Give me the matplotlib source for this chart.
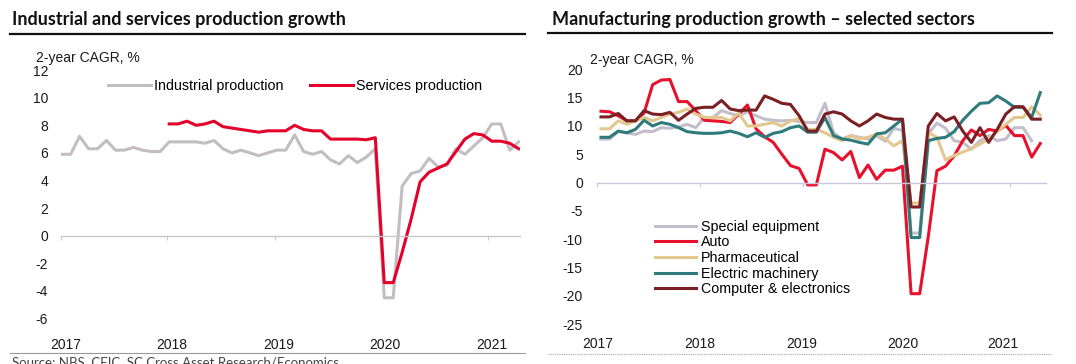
import numpy as np
import matplotlib
matplotlib.use("Agg")
import matplotlib.pyplot as plt
from matplotlib.lines import Line2D

plt.rcParams['font.family'] = ['Liberation Sans', 'DejaVu Sans']
plt.rcParams['axes.unicode_minus'] = False

nan = np.nan
# Monthly data, Jan 2017 .. Apr 2021 (52 months)
industrial = [5.9, 5.9, 7.2, 6.3, 6.3, 6.9, 6.2, 6.2, 6.4, 6.2, 6.1, 6.1,
              6.8, 6.8, 6.8, 6.8, 6.7, 6.9, 6.3, 6.0, 6.2, 6.0, 5.8, 6.0,
              6.2, 6.2, 7.3, 6.1, 5.9, 6.1, 5.5, 5.2, 5.8, 5.3, 5.7, 6.3,
              -4.5, -4.5, 3.6, 4.5, 4.7, 5.6, 5.0, 5.1, 6.3, 5.9, 6.5, 7.1,
              8.1, 8.1, 6.2, 6.8]
services = [nan] * 12 + [
              8.1, 8.1, 8.3, 8.0, 8.1, 8.3, 7.9, 7.8, 7.7, 7.6, 7.5, 7.6,
              7.6, 7.6, 8.0, 7.7, 7.6, 7.6, 7.0, 7.0, 7.0, 7.0, 6.95, 7.1,
              -3.4, -3.4, -1.2, 1.2, 3.9, 4.6, 4.9, 5.2, 6.1, 7.0, 7.4, 7.3,
              6.85, 6.85, 6.7, 6.3]

special_equipment = [7.7, 7.7, 9.0, 8.8, 8.5, 9.1, 9.0, 9.7, 9.6, 9.8, 10.3, 9.7,
                     11.5, 11.5, 12.7, 12.2, 11.8, 12.5, 11.8, 11.2, 11.0, 10.9, 11.0, 10.8,
                     10.6, 10.6, 14.0, 8.8, 7.7, 8.3, 8.0, 7.7, 8.3, 7.3, 9.6, 9.2,
                     -8.9, -8.9, 8.6, 10.5, 9.6, 7.4, 7.1, 5.9, 7.4, 8.3, 7.4, 7.7,
                     9.7, 9.7, 7.4, nan]
auto = [12.6, 12.5, 11.8, 10.9, 10.9, 12.3, 17.3, 18.1, 18.2, 14.3, 14.3, 12.7,
        11.0, 10.9, 10.8, 10.6, 12.1, 13.7, 9.5, 8.1, 7.1, 5.0, 3.0, 2.5,
        -0.4, -0.4, 5.9, 5.3, 4.0, 5.5, 0.9, 3.1, 0.6, 2.2, 2.2, 2.9,
        -19.6, -19.6, -9.5, 2.1, 2.9, 4.7, 7.4, 9.3, 8.3, 9.4, 9.1, 10.1,
        8.3, 8.3, 4.5, 6.9]
pharmaceutical = [9.5, 9.5, 10.9, 10.3, 10.9, 11.5, 10.9, 11.5, 12.1, 12.4, 13.0, 12.1,
                  11.5, 11.5, 11.5, 10.9, 12.3, 10.0, 10.0, 10.3, 10.6, 10.0, 10.9, 11.3,
                  9.4, 9.4, 8.8, 8.0, 7.4, 8.3, 7.7, 8.0, 8.6, 7.7, 6.5, 7.4,
                  -3.6, -3.6, 8.8, 8.0, 4.0, 4.8, 5.4, 6.0, 6.8, 7.7, 9.0, 10.3,
                  11.5, 11.5, 13.4, 11.9]
electric_machinery = [8.0, 8.0, 9.1, 8.8, 9.4, 11.0, 10.0, 10.6, 10.3, 9.7, 9.0, 8.8,
                      8.7, 8.7, 8.8, 9.1, 8.7, 8.1, 8.8, 8.0, 8.7, 9.0, 9.7, 10.0,
                      8.9, 8.9, 11.5, 8.3, 7.7, 7.5, 7.1, 6.8, 8.6, 8.8, 10.0, 11.2,
                      -9.7, -9.7, 7.4, 7.8, 8.0, 9.0, 11.0, 12.6, 14.0, 14.1, 15.3, 14.4,
                      13.3, 13.3, 11.5, 15.9]
computer = [11.6, 11.6, 12.2, 10.9, 10.9, 12.7, 12.1, 12.0, 12.4, 11.0, 12.1, 13.1,
            13.3, 13.3, 14.5, 13.0, 12.7, 12.8, 12.8, 15.3, 14.7, 14.0, 13.8, 11.8,
            9.1, 9.1, 12.1, 12.5, 12.1, 10.9, 10.0, 10.9, 12.1, 11.5, 11.2, 11.2,
            -4.3, -4.3, 10.0, 12.2, 10.9, 11.6, 9.1, 7.1, 9.7, 7.1, 9.4, 12.1,
            13.4, 13.4, 11.2, 11.2]

year_labels = ['2017', '2018', '2019', '2020', '2021']
left_yticks = [12, 10, 8, 6, 4, 2, 0, -2, -4, -6]
right_yticks = [20, 15, 10, 5, 0, -5, -10, -15, -20, -25]

W, H = 1076, 364
fig = plt.figure(figsize=(W / 100, H / 100), dpi=100)


def fx(px):
    return px / W


def fy(py):
    return 1 - py / H


def rect(x0, x1, ytop, ybot):
    return [fx(x0), fy(ybot), fx(x1) - fx(x0), fy(ytop) - fy(ybot)]


months = np.arange(len(industrial))


def style_axis(ax, zero_color, tick_pos, label_pos, ypad, xpad):
    for s in ['top', 'right', 'left']:
        ax.spines[s].set_visible(False)
    ax.spines['bottom'].set_position(('data', 0))
    ax.spines['bottom'].set_color(zero_color)
    ax.spines['bottom'].set_linewidth(1.0)
    ax.set_xticks(tick_pos)
    ax.tick_params(axis='x', direction='out', length=3, color=zero_color,
                   labelbottom=False)
    ax.tick_params(axis='y', length=0, pad=ypad, labelsize=10, colors='#1a1a1a')
    sec = ax.secondary_xaxis('bottom')
    sec.set_xticks(label_pos, year_labels)
    sec.tick_params(length=0, pad=xpad, labelsize=10, colors='#1a1a1a')
    sec.spines['bottom'].set_visible(False)


# ---------------- Left chart ----------------
ax1 = fig.add_axes(rect(60.7, 520, 70.1, 318.5))
ax1.plot(months, industrial, color='#C3BDC1', lw=2.2, label='Industrial production')
ax1.plot(months, services, color='#E4002B', lw=2.2, label='Services production')
ax1.set_xlim(-0.11, 51.15)
ax1.set_ylim(-6, 12)
ax1.set_yticks(left_yticks)
style_axis(ax1, '#C8C8C8', [-0.1, 11.8, 23.8, 35.7, 47.6],
           [0.4, 12.3, 24.2, 36.1, 48.0], ypad=9, xpad=14)
ax1.legend(loc='center left', bbox_to_anchor=(fx(108), fy(86)),
           bbox_transform=fig.transFigure, ncol=2, frameon=False, fontsize=10.3,
           handlelength=3.0, handletextpad=0.2, columnspacing=1.9,
           borderpad=0, borderaxespad=0)
fig.text(fx(36), fy(58), '2-year CAGR, %', fontsize=10, va='center', ha='left',
         color='#1a1a1a')

# ---------------- Right chart ----------------
ax2 = fig.add_axes(rect(596.7, 1045.7, 69.3, 324.3))
ax2.plot(months, special_equipment, color='#C4BDCB', lw=2.2, label='Special equipment')
ax2.plot(months, auto, color='#E8112D', lw=2.2, label='Auto')
ax2.plot(months, pharmaceutical, color='#E2C88F', lw=2.2, label='Pharmaceutical')
ax2.plot(months, electric_machinery, color='#2F7A7B', lw=2.2, label='Electric machinery')
ax2.plot(months, computer, color='#7A1F24', lw=2.2, label='Computer & electronics')
ax2.set_xlim(-0.5, 51.63)
ax2.set_ylim(-25, 20)
ax2.set_yticks(right_yticks)
style_axis(ax2, '#CBC6DC', [-0.5, 11.5, 23.5, 35.5, 47.5],
           [-0.35, 11.5, 23.3, 35.0, 46.6], ypad=10, xpad=9)
ax2.legend(loc='center left', bbox_to_anchor=(fx(655), fy(258)),
           bbox_transform=fig.transFigure, ncol=1, frameon=False, fontsize=10.3,
           handlelength=2.9, handletextpad=0.3, labelspacing=0.12,
           borderpad=0, borderaxespad=0)
fig.text(fx(590), fy(60), '2-year CAGR, %', fontsize=10, va='center', ha='left',
         color='#1a1a1a')

# ---------------- Titles, rules, source ----------------
title_kw = dict(fontsize=13, fontweight='bold', family=['Lato', 'DejaVu Sans'],
                va='center', ha='left', color='#111111')
fig.text(fx(12), fy(19), 'Industrial and services production growth', **title_kw)
fig.text(fx(552), fy(19), 'Manufacturing production growth \u2013 selected sectors', **title_kw)
fig.add_artist(Line2D([fx(10), fx(525)], [fy(33.5)] * 2, color='#111111', lw=1.6))
fig.add_artist(Line2D([fx(548), fx(1052)], [fy(33)] * 2, color='#111111', lw=1.6))
fig.add_artist(Line2D([fx(10), fx(525)], [fy(353)] * 2, color='#9a9a9a', lw=0.8))
fig.add_artist(Line2D([fx(548), fx(1052)], [fy(354)] * 2, color='#a8a8a8', lw=0.8,
                      linestyle=(0, (1, 1))))
fig.text(fx(12), fy(356.5), 'Source: NBS, CEIC, SC Cross Asset Research/Economics',
         fontsize=9.5, family=['Lato', 'DejaVu Sans'], va='top', ha='left',
         color='#444444')

fig.savefig('out.png', dpi=100)
